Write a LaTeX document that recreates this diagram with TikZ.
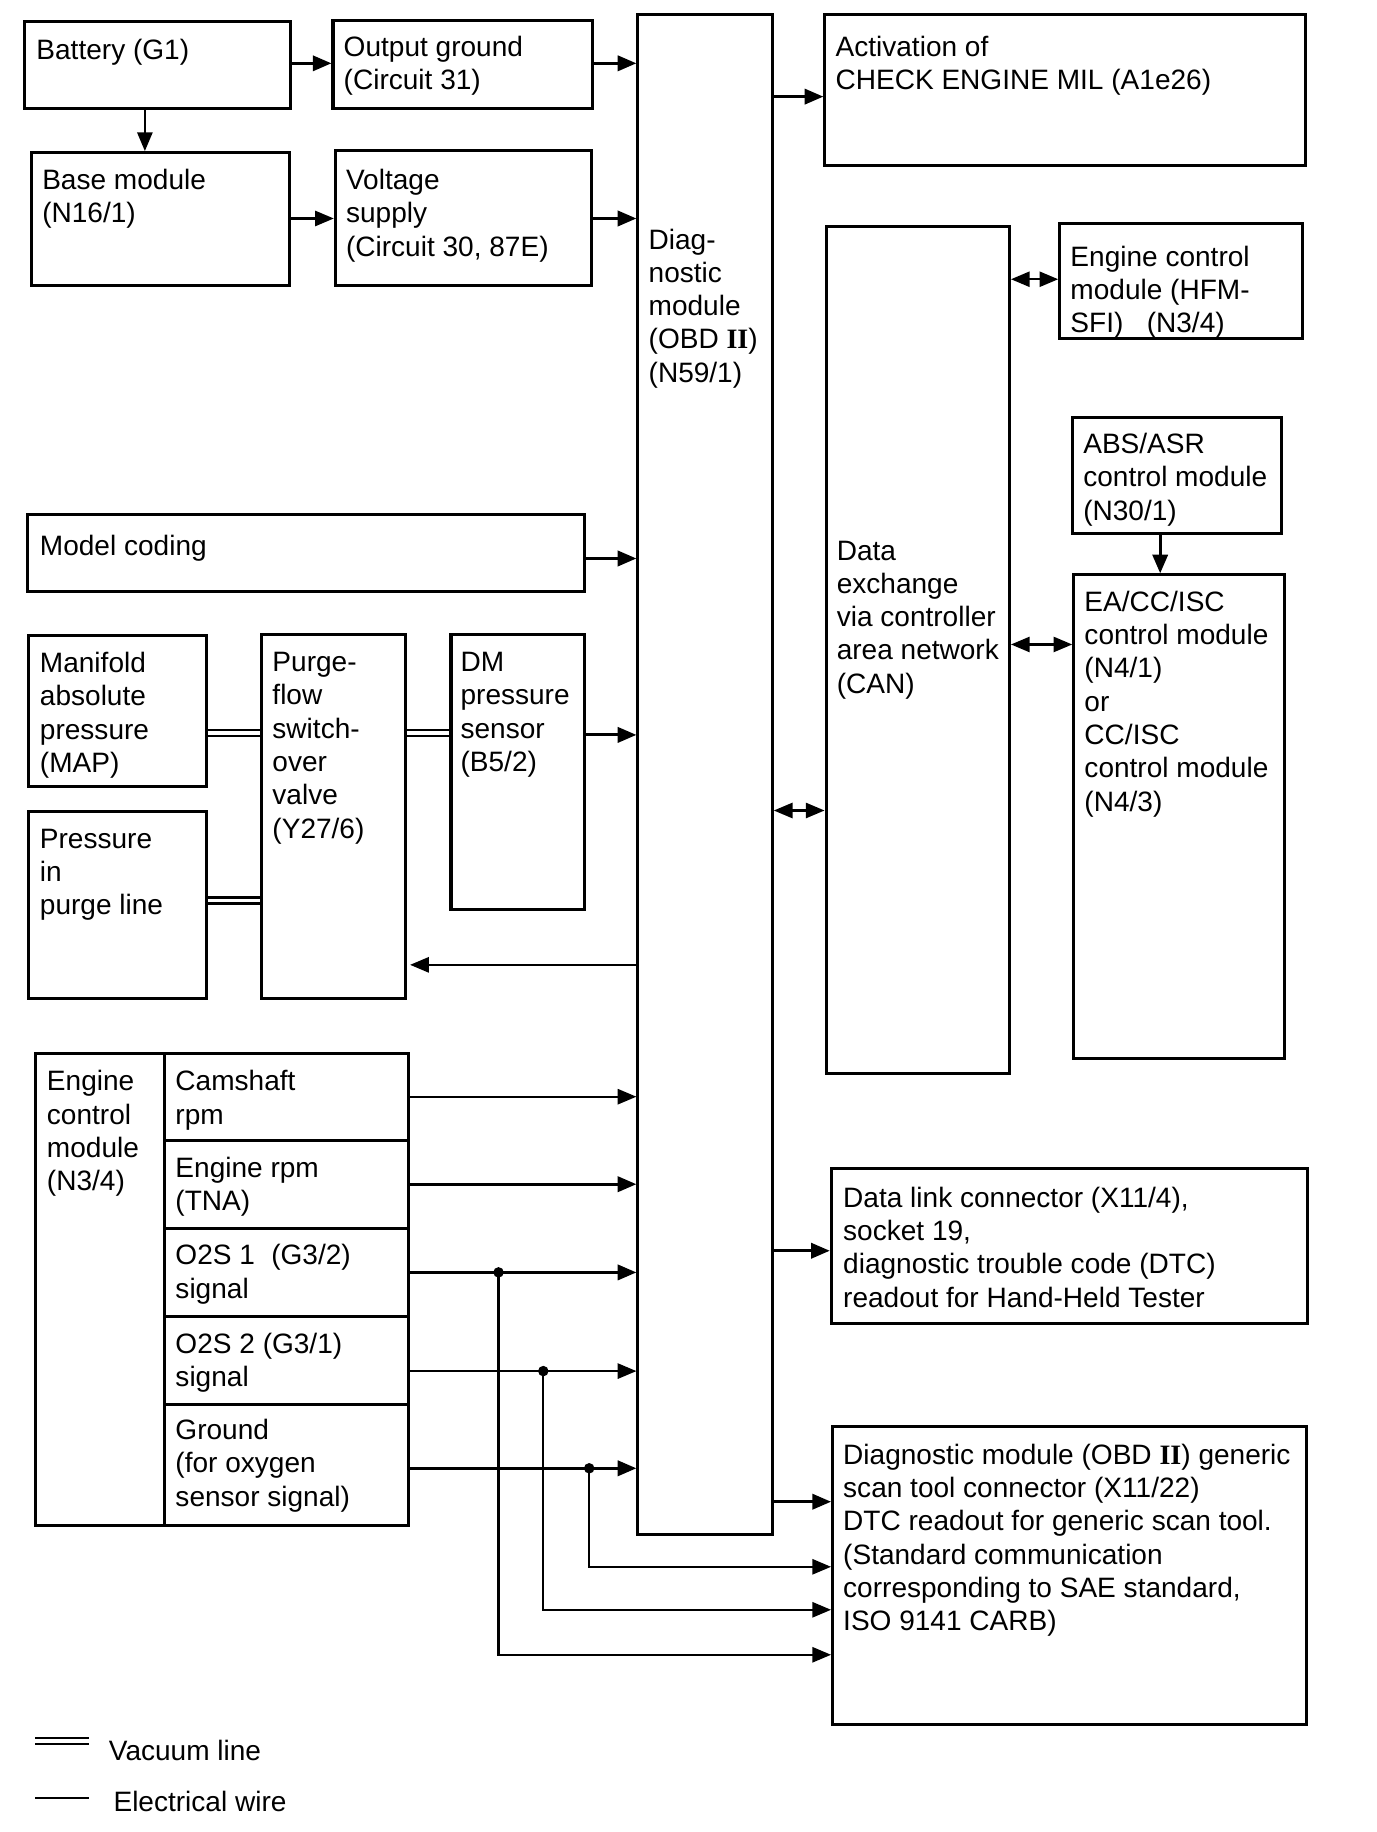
\documentclass[tikz,border=0pt]{standalone}
\usepackage{fontspec}
\setmainfont{Liberation Sans}
\newfontfamily\romanii{Liberation Serif}
\usetikzlibrary{fit,arrows.meta}
\newcommand{\obdii}{{\romanii\bfseries II}}
\newcommand{\tstrut}{\rule{0pt}{20pt}}

\begin{document}
\begin{tikzpicture}[x=1pt, y=-1pt,
  blk/.style={draw, line width=2.6pt, inner sep=0pt},
  txt/.style={anchor=north west, yshift=18pt, align=left, inner sep=0pt,
    font=\fontsize{24}{28.5}\selectfont, execute at begin node=\tstrut},
  arr/.style={-{Triangle[length=16pt,width=13pt]}, line width=1.8pt},
  arrb/.style={arr, line width=2.6pt},
  biarr/.style={{Triangle[length=16pt,width=13pt]}-{Triangle[length=16pt,width=13pt]}, line width=1.8pt},
  vac/.style={double, double distance=3pt, line width=2pt},
  dot/.style={circle, fill, inner sep=0pt, minimum size=9pt}]

  \useasboundingbox (0,0) rectangle (1178,1568);

  % Define nodes
  \node[blk, fit={(21,18.5) (249,92.7)}]     (bat)   {};
  \node[blk, fit={(285,17.7) (507,92.7)}]    (outg)  {};
  \node[blk, fit={(26.7,130.6) (248,244)}]   (base)  {};
  \node[blk, fit={(287,129) (506,244)}]      (volt)  {};
  \node[blk, fit={(546,12.8) (661,1313)}]    (diag)  {};
  \node[blk, fit={(706,12.8) (1117,141.8)}]  (act)   {};
  \node[blk, fit={(707,194) (864,919)}]      (can)   {};
  \node[blk, fit={(907,191) (1115,290)}]     (hfm)   {};
  \node[blk, fit={(918,357.6) (1097,457)}]   (abs)   {};
  \node[blk, fit={(919,492) (1099,906)}]     (ea)    {};
  \node[blk, fit={(23.7,440.7) (500,506.3)}] (model) {};
  \node[blk, fit={(24.8,544) (176.5,673)}]   (map)   {};
  \node[blk, fit={(24.8,694.5) (177,855)}]   (prs)   {};
  \node[blk, fit={(223.5,543) (347,855)}]    (purge) {};
  \node[blk, fit={(386,543) (500.5,778.7)}]  (dm)    {};
  \node[blk, fit={(30.6,901.5) (349.5,1305.6)}] (ecm) {};
  \node[blk, fit={(140.6,901.5) (349.5,975.8)}]   (cam) {};
  \node[blk, fit={(140.6,975.8) (349.5,1051.3)}]  (eng) {};
  \node[blk, fit={(140.6,1051.3) (349.5,1126.8)}] (o2a) {};
  \node[blk, fit={(140.6,1126.8) (349.5,1201.9)}] (o2b) {};
  \node[blk, fit={(140.6,1201.9) (349.5,1305.6)}] (gnd) {};
  \node[blk, fit={(711.5,1000) (1119,1132.7)}]  (dlc) {};
  \node[blk, fit={(712.6,1220.7) (1118,1475.6)}] (gen) {};

  % Texts
  \node[txt] at (31,48.6)   {Battery (G1)};
  \node[txt] at (294,48.6)  {Output ground\\(Circuit 31)};
  \node[txt] at (36,162.6)  {Base module\\(N16/1)};
  \node[txt] at (296,162.6) {Voltage\\supply\\(Circuit 30, 87E)};
  \node[txt] at (555,213.6) {Diag-\\nostic\\module\\(OBD \obdii)\\(N59/1)};
  \node[txt] at (715,48.6)  {Activation of\\CHECK ENGINE MIL (A1e26)};
  \node[txt] at (716,480.6) {Data\\exchange\\via controller\\area network\\(CAN)};
  \node[txt] at (916,228.2) {Engine control\\module (HFM-\\SFI)\hspace*{20pt}(N3/4)};
  \node[txt] at (927,388.6) {ABS/ASR\\control module\\(N30/1)};
  \node[txt] at (928,523.6) {EA/CC/ISC\\control module\\(N4/1)\\or\\CC/ISC\\control module\\(N4/3)};
  \node[txt] at (34,473.6)  {Model coding};
  \node[txt] at (34,576.1)  {Manifold\\absolute\\pressure\\(MAP)};
  \node[txt] at (34,727.4)  {Pressure\\in\\purge line};
  \node[txt] at (233,576.1) {Purge-\\flow\\switch-\\over\\valve\\(Y27/6)};
  \node[txt] at (394,576.1) {DM\\pressure\\sensor\\(B5/2)};
  \node[txt] at (40,934)    {Engine\\control\\module\\(N3/4)};
  \node[txt] at (150,934)   {Camshaft\\rpm};
  \node[txt] at (150,1008)  {Engine rpm\\(TNA)};
  \node[txt] at (150,1083)  {O2S 1\hspace*{14pt}(G3/2)\\signal};
  \node[txt] at (150,1159)  {O2S 2 (G3/1)\\signal};
  \node[txt] at (150,1232.6){Ground\\(for oxygen\\sensor signal)};
  \node[txt] at (721.5,1033.6) {Data link connector (X11/4),\\socket 19,\\diagnostic trouble code (DTC)\\readout for Hand-Held Tester};
  \node[txt] at (721.5,1253.6) {Diagnostic module (OBD \obdii) generic\\scan tool connector (X11/22)\\DTC readout for generic scan tool.\\(Standard communication\\corresponding to SAE standard,\\ISO 9141 CARB)};

  % Connect the nodes
  \draw[arrb] (bat.east |- 0,54.2) -- (outg.west |- 0,54.2);
  \draw[arr]  (bat.south -| 124,0) -- (base.north -| 124,0);
  \draw[arrb] (outg.east |- 0,54.2) -- (diag.west |- 0,54.2);
  \draw[arr]  (base.east |- 0,187) -- (volt.west |- 0,187);
  \draw[arrb] (volt.east |- 0,187) -- (diag.west |- 0,187);
  \draw[arrb] (diag.east |- 0,82.7) -- (act.west |- 0,82.7);
  \draw[biarr] (can.east |- 0,239) -- (hfm.west |- 0,239);
  \draw[arrb] (abs.south -| 993,0) -- (ea.north -| 993,0);
  \draw[biarr] (can.east |- 0,551.6) -- (ea.west |- 0,551.6);
  \draw[biarr] (diag.east |- 0,693.7) -- (can.west |- 0,693.7);
  \draw[arrb] (model.east |- 0,478) -- (diag.west |- 0,478);
  \draw[vac]  (map.east |- 0,627.5) -- (purge.west |- 0,627.5);
  \draw[vac]  (purge.east |- 0,627.5) -- (dm.west |- 0,627.5);
  \draw[vac]  (prs.east |- 0,770.7) -- (purge.west |- 0,770.7);
  \draw[arrb] (dm.east |- 0,629) -- (diag.west |- 0,629);
  \draw[arr]  (diag.west |- 0,825.8) -- (351,825.8);

  \draw[arr]  (cam.east) -- (cam.east -| diag.west);
  \draw[arrb] (eng.east) -- (eng.east -| diag.west);
  \draw[arrb] (o2a.east) -- (o2a.east -| diag.west);
  \draw[arr]  (o2b.east |- 0,1173.5) -- (diag.west |- 0,1173.5);
  \draw[arrb] (gnd.east |- 0,1256.7) -- (diag.west |- 0,1256.7);

  \node[dot] (ja) at (426.7,1089) {};
  \node[dot] (jb) at (465,1173.5) {};
  \node[dot] (jc) at (504.3,1256.7) {};
  \draw[arr] (ja.center) |- (gen.west |- 0,1416.3);
  \draw[arr] (jb.center) |- (gen.west |- 0,1377.8);
  \draw[arr] (jc.center) |- (gen.west |- 0,1341);

  \draw[arrb] (diag.east |- 0,1070.5) -- (dlc.west |- 0,1070.5);
  \draw[arrb] (diag.east |- 0,1285.3) -- (gen.west |- 0,1285.3);

  % Legend
  \coordinate (vacA) at (30,1490);
  \coordinate (vacB) at (76,1490);
  \coordinate (elA) at (30,1538.6);
  \coordinate (elB) at (76,1538.6);
  \draw[vac] (vacA) -- (vacB);
  \draw[line width=1.5pt] (elA) -- (elB);
  \node[txt] at (93,1504.6) {Vacuum line};
  \node[txt] at (97,1548.6) {Electrical wire};

\end{tikzpicture}
\end{document}
